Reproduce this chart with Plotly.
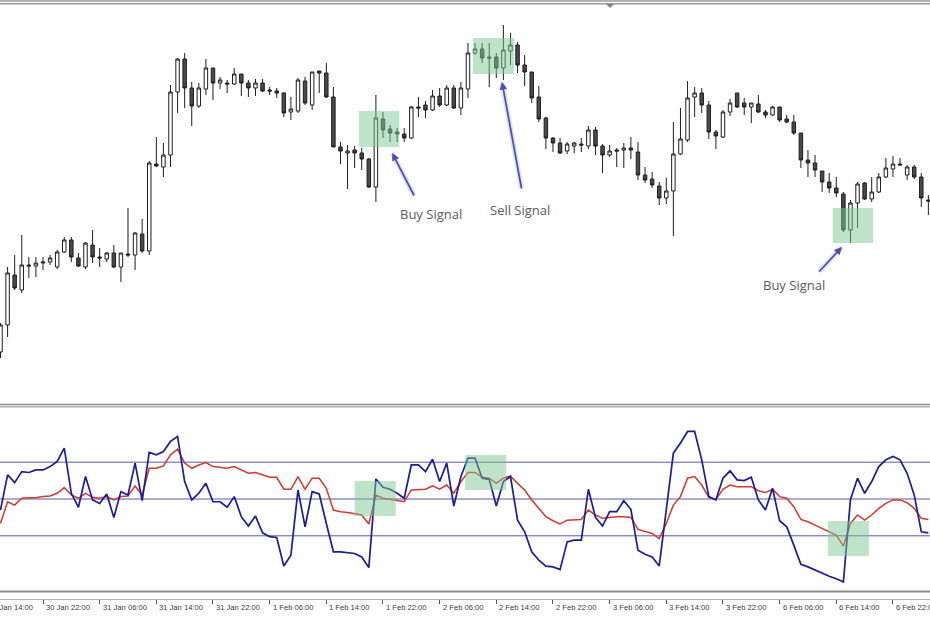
import plotly.graph_objects as go

# ---------------- data ----------------
open_ = [1.0648, 1.0675, 1.0725, 1.0710, 1.0735, 1.0734, 1.0737, 1.0738, 1.0733, 1.0748,
         1.0760, 1.0742, 1.0733, 1.0755, 1.0743, 1.0741, 1.0747, 1.0733, 1.0746, 1.0745,
         1.0766, 1.0749, 1.0836, 1.0833, 1.0845, 1.0908, 1.0941, 1.0912, 1.0894, 1.0911,
         1.0932, 1.0917, 1.0917, 1.0916, 1.0926, 1.0917, 1.0912, 1.0917, 1.0910, 1.0909,
         1.0907, 1.0888, 1.0889, 1.0919, 1.0895, 1.0929, 1.0927, 1.0903, 1.0853, 1.0847,
         1.0850, 1.0847, 1.0841, 1.0813, 1.0881, 1.0871, 1.0868, 1.0866, 1.0862, 1.0893,
         1.0895, 1.0890, 1.0904, 1.0895, 1.0912, 1.0892, 1.0911, 1.0947, 1.0951, 1.0943,
         1.0943, 1.0932, 1.0949, 1.0955, 1.0935, 1.0928, 1.0903, 1.0882, 1.0862, 1.0857,
         1.0849, 1.0854, 1.0856, 1.0854, 1.0870, 1.0854, 1.0845, 1.0850, 1.0850, 1.0852,
         1.0848, 1.0825, 1.0821, 1.0814, 1.0802, 1.0809, 1.0846, 1.0860, 1.0903, 1.0907,
         1.0895, 1.0868, 1.0863, 1.0888, 1.0907, 1.0897, 1.0893, 1.0896, 1.0888, 1.0885,
         1.0893, 1.0881, 1.0878, 1.0867, 1.0840, 1.0837, 1.0829, 1.0818, 1.0812, 1.0806,
         1.0770, 1.0797, 1.0817, 1.0801, 1.0808, 1.0823, 1.0831, 1.0836, 1.0825, 1.0833,
         1.0823, 1.0800]
high = [1.0677, 1.0733, 1.0745, 1.0765, 1.0743, 1.0743, 1.0743, 1.0745, 1.0750, 1.0763,
        1.0763, 1.0747, 1.0758, 1.0770, 1.0752, 1.0748, 1.0755, 1.0747, 1.0792, 1.0768,
        1.0781, 1.0839, 1.0863, 1.0857, 1.0915, 1.0942, 1.0947, 1.0918, 1.0917, 1.0941,
        1.0932, 1.0923, 1.0920, 1.0932, 1.0926, 1.0920, 1.0921, 1.0921, 1.0913, 1.0912,
        1.0908, 1.0903, 1.0922, 1.0923, 1.0928, 1.0929, 1.0937, 1.0913, 1.0858, 1.0855,
        1.0854, 1.0852, 1.0842, 1.0905, 1.0888, 1.0875, 1.0872, 1.0872, 1.0894, 1.0903,
        1.0899, 1.0910, 1.0912, 1.0915, 1.0915, 1.0918, 1.0957, 1.0957, 1.0957, 1.0957,
        1.0947, 1.0975, 1.0967, 1.0958, 1.0945, 1.0928, 1.0914, 1.0883, 1.0863, 1.0862,
        1.0858, 1.0858, 1.0862, 1.0874, 1.0873, 1.0856, 1.0855, 1.0852, 1.0857, 1.0863,
        1.0858, 1.0833, 1.0828, 1.0818, 1.0822, 1.0878, 1.0892, 1.0919, 1.0913, 1.0912,
        1.0899, 1.0870, 1.0890, 1.0901, 1.0907, 1.0902, 1.0897, 1.0905, 1.0890, 1.0894,
        1.0893, 1.0885, 1.0885, 1.0867, 1.0850, 1.0845, 1.0829, 1.0827, 1.0823, 1.0808,
        1.0800, 1.0818, 1.0818, 1.0823, 1.0827, 1.0842, 1.0844, 1.0842, 1.0835, 1.0835,
        1.0827, 1.0805]
low = [1.0642, 1.0663, 1.0710, 1.0707, 1.0722, 1.0723, 1.0730, 1.0735, 1.0731, 1.0747,
       1.0738, 1.0733, 1.0731, 1.0737, 1.0733, 1.0738, 1.0732, 1.0718, 1.0743, 1.0730,
       1.0747, 1.0745, 1.0833, 1.0823, 1.0833, 1.0887, 1.0892, 1.0874, 1.0892, 1.0905,
       1.0900, 1.0911, 1.0907, 1.0915, 1.0904, 1.0903, 1.0904, 1.0908, 1.0905, 1.0902,
       1.0883, 1.0880, 1.0887, 1.0895, 1.0890, 1.0907, 1.0902, 1.0853, 1.0836, 1.0811,
       1.0832, 1.0830, 1.0812, 1.0798, 1.0862, 1.0858, 1.0858, 1.0858, 1.0861, 1.0883,
       1.0882, 1.0889, 1.0893, 1.0894, 1.0891, 1.0885, 1.0902, 1.0945, 1.0937, 1.0913,
       1.0922, 1.0920, 1.0935, 1.0927, 1.0914, 1.0897, 1.0878, 1.0851, 1.0848, 1.0846,
       1.0846, 1.0847, 1.0848, 1.0851, 1.0845, 1.0827, 1.0843, 1.0833, 1.0832, 1.0841,
       1.0820, 1.0817, 1.0812, 1.0795, 1.0796, 1.0764, 1.0845, 1.0858, 1.0883, 1.0887,
       1.0861, 1.0851, 1.0862, 1.0884, 1.0892, 1.0885, 1.0877, 1.0887, 1.0882, 1.0884,
       1.0878, 1.0877, 1.0865, 1.0832, 1.0823, 1.0823, 1.0808, 1.0807, 1.0803, 1.0768,
       1.0757, 1.0772, 1.0800, 1.0798, 1.0807, 1.0822, 1.0823, 1.0835, 1.0820, 1.0821,
       1.0793, 1.0785]
close = [1.0675, 1.0727, 1.0712, 1.0735, 1.0734, 1.0737, 1.0738, 1.0742, 1.0748, 1.0760,
         1.0743, 1.0734, 1.0757, 1.0743, 1.0742, 1.0747, 1.0733, 1.0747, 1.0745, 1.0767,
         1.0749, 1.0837, 1.0834, 1.0845, 1.0908, 1.0941, 1.0912, 1.0894, 1.0912, 1.0932,
         1.0917, 1.0920, 1.0916, 1.0926, 1.0917, 1.0912, 1.0917, 1.0909, 1.0909, 1.0907,
         1.0887, 1.0891, 1.0920, 1.0897, 1.0928, 1.0927, 1.0903, 1.0853, 1.0849, 1.0849,
         1.0847, 1.0841, 1.0813, 1.0882, 1.0870, 1.0867, 1.0866, 1.0862, 1.0893, 1.0892,
         1.0890, 1.0904, 1.0895, 1.0912, 1.0892, 1.0912, 1.0947, 1.0951, 1.0942, 1.0942,
         1.0932, 1.0950, 1.0955, 1.0935, 1.0928, 1.0902, 1.0881, 1.0862, 1.0857, 1.0847,
         1.0856, 1.0857, 1.0855, 1.0870, 1.0854, 1.0845, 1.0849, 1.0849, 1.0852, 1.0850,
         1.0825, 1.0820, 1.0815, 1.0802, 1.0809, 1.0846, 1.0861, 1.0902, 1.0907, 1.0895,
         1.0868, 1.0864, 1.0888, 1.0897, 1.0893, 1.0893, 1.0897, 1.0888, 1.0885, 1.0893,
         1.0880, 1.0878, 1.0867, 1.0840, 1.0837, 1.0830, 1.0818, 1.0812, 1.0807, 1.0770,
         1.0797, 1.0816, 1.0801, 1.0808, 1.0823, 1.0832, 1.0836, 1.0835, 1.0833, 1.0823,
         1.0802, 1.0799]

osc_fast = [44.0, 63.1, 58.9, 64.9, 64.4, 65.8, 65.8, 67.6, 70.4, 77.6,
            53.1, 45.5, 62.2, 49.5, 47.6, 52.7, 40.0, 54.0, 52.2, 69.5,
            49.1, 75.3, 74.0, 75.8, 81.3, 84.0, 59.5, 49.5, 53.1, 58.5,
            48.5, 48.5, 45.5, 51.3, 40.4, 35.3, 40.7, 31.6, 29.5, 29.1,
            13.6, 19.5, 54.9, 34.9, 54.0, 52.7, 36.7, 21.3, 21.3, 20.7,
            20.4, 18.5, 12.7, 60.9, 56.4, 55.3, 53.1, 50.4, 68.5, 68.5,
            64.9, 71.6, 59.5, 69.5, 46.2, 62.2, 72.2, 72.2, 61.3, 60.7,
            46.2, 59.5, 62.2, 38.5, 32.2, 21.3, 16.7, 13.5, 13.1, 11.6,
            26.7, 27.6, 27.6, 55.3, 40.0, 35.3, 43.1, 43.1, 49.1, 44.4,
            22.2, 20.0, 18.5, 13.6, 44.0, 74.9, 80.4, 86.7, 86.7, 71.3,
            51.3, 49.5, 61.3, 65.3, 60.4, 60.0, 61.8, 49.5, 44.0, 55.8,
            38.2, 34.9, 24.9, 14.5, 13.1, 11.3, 9.5, 8.0, 6.7, 4.9,
            49.8, 61.3, 53.1, 59.5, 67.6, 71.3, 73.1, 71.3, 64.0, 52.2,
            32.2, 31.6]
osc_slow = [36.7, 48.5, 46.7, 50.4, 50.7, 50.7, 51.3, 51.6, 53.1, 56.2,
            52.2, 50.4, 53.1, 50.9, 50.4, 51.3, 49.5, 51.3, 51.6, 57.1,
            52.2, 66.7, 66.7, 68.0, 74.0, 77.1, 69.5, 66.7, 68.5, 69.8,
            67.6, 67.1, 66.7, 67.6, 65.8, 64.0, 64.4, 63.1, 61.8, 61.8,
            55.3, 55.3, 62.2, 55.3, 61.3, 61.3, 55.8, 44.0, 43.1, 42.7,
            42.2, 41.3, 36.4, 52.2, 50.4, 49.8, 48.9, 48.5, 54.9, 54.9,
            55.3, 57.1, 55.3, 57.6, 53.1, 59.5, 64.4, 64.4, 61.8, 61.3,
            58.5, 61.3, 62.5, 58.5, 54.9, 49.5, 44.9, 40.4, 38.2, 36.4,
            38.5, 38.9, 38.9, 44.0, 41.3, 39.5, 40.0, 40.4, 40.4, 40.0,
            33.5, 32.2, 31.3, 28.5, 36.7, 46.7, 51.3, 61.3, 62.2, 57.6,
            50.9, 49.8, 55.3, 57.6, 56.7, 56.7, 56.7, 54.5, 53.5, 55.3,
            51.3, 50.4, 45.8, 38.9, 37.6, 35.8, 34.0, 32.2, 30.4, 24.4,
            36.7, 41.3, 38.5, 41.3, 44.9, 47.6, 49.5, 49.5, 48.0, 44.9,
            39.5, 38.9]

tick_idx = [-2, 6, 14, 22, 30, 38, 46, 54, 62, 70, 78, 86, 94, 102, 110, 118, 126]
tick_text = ["30 Jan 14:00", "30 Jan 22:00", "31 Jan 06:00", "31 Jan 14:00", "31 Jan 22:00",
             "1 Feb 06:00", "1 Feb 14:00", "1 Feb 22:00", "2 Feb 06:00", "2 Feb 14:00",
             "2 Feb 22:00", "3 Feb 06:00", "3 Feb 14:00", "3 Feb 22:00", "6 Feb 06:00",
             "6 Feb 14:00", "6 Feb 22:00"]
levels = [70, 50, 30]

# signal boxes: bar range, price range, oscillator range
sig_labels = ["Buy Signal", "Sell Signal", "Buy Signal"]
sig_bars = [(50.6, 56.3), (66.7, 72.5), (117.5, 123.2)]
sig_price = [(1.0853, 1.0889), (1.0926, 1.0962), (1.0757, 1.0792)]
sig_osc_bars = [(50.0, 55.8), (65.6, 71.4), (116.8, 122.6)]
sig_osc = [(40.8, 59.8), (54.9, 73.9), (19.0, 38.0)]
sig_text_pos = [(60.8, 1.0786), (73.3, 1.0790), (112.0, 1.0715)]
sig_arrow_tip = [(55.3, 1.0847), (70.8, 1.0918), (118.8, 1.0753)]
sig_arrow_tail = [(58.5, 1.0803), (73.6, 1.0810), (115.4, 1.0727)]

# ---------------- figure ----------------
W, H = 930, 620
x = list(range(len(open_)))
X0, X1 = -0.0706, 131.23


def py(px):
    return 1 - px / H


fig = go.Figure()
fig.add_trace(go.Candlestick(
    x=x, open=open_, high=high, low=low, close=close,
    xaxis="x", yaxis="y",
    increasing=dict(line=dict(color="#1e1e1e", width=1), fillcolor="#ffffff"),
    decreasing=dict(line=dict(color="#1e1e1e", width=1), fillcolor="#4a4a4a"),
    whiskerwidth=0, showlegend=False, hoverinfo="skip",
))
fig.add_trace(go.Scatter(x=x, y=osc_slow, mode="lines", xaxis="x2", yaxis="y2",
                         line=dict(color="#d2382e", width=1.5), showlegend=False,
                         hoverinfo="skip"))
fig.add_trace(go.Scatter(x=x, y=osc_fast, mode="lines", xaxis="x2", yaxis="y2",
                         line=dict(color="#1c1c96", width=1.7), showlegend=False,
                         hoverinfo="skip"))

shapes = []
for lv in levels:
    shapes.append(dict(type="line", xref="paper", x0=0, x1=1, yref="y2", y0=lv, y1=lv,
                       line=dict(color="#5a5aa6", width=1), layer="below"))
for (b0, b1), (p0, p1) in zip(sig_bars, sig_price):
    shapes.append(dict(type="rect", xref="x", yref="y", x0=b0, x1=b1, y0=p0, y1=p1,
                       fillcolor="rgba(125,200,145,0.5)", line=dict(width=0), layer="above"))
for (b0, b1), (v0, v1) in zip(sig_osc_bars, sig_osc):
    shapes.append(dict(type="rect", xref="x2", yref="y2", x0=b0, x1=b1, y0=v0, y1=v1,
                       fillcolor="rgba(125,200,145,0.5)", line=dict(width=0), layer="above"))
# frame lines (window decorations)
for ypx, col, wd in [(1, "#9a9a9a", 1.5), (3.8, "#9a9a9a", 1.5),
                     (404.5, "#8c8c8c", 1.5), (406.8, "#b0b0b0", 1.5),
                     (591.5, "#8c8c8c", 2)]:
    shapes.append(dict(type="line", xref="paper", yref="paper", x0=0, x1=1,
                       y0=py(ypx), y1=py(ypx), line=dict(color=col, width=wd)))
shapes.append(dict(type="path", xref="paper", yref="paper",
                   path=f"M {606/W},{py(4)} L {614/W},{py(4)} L {610/W},{py(8)} Z",
                   fillcolor="#808080", line=dict(width=0)))
fig.update_layout(shapes=shapes)

ann = []
for (tx, ty), (hx, hy) in zip(sig_arrow_tail, sig_arrow_tip):
    ann.append(dict(x=hx, y=hy, ax=tx, ay=ty, xref="x", yref="y", axref="x", ayref="y",
                    text="", showarrow=True, arrowhead=0, arrowwidth=5,
                    arrowcolor="rgba(120,120,235,0.22)"))
    ann.append(dict(x=hx, y=hy, ax=tx, ay=ty, xref="x", yref="y", axref="x", ayref="y",
                    text="", showarrow=True, arrowhead=2, arrowsize=0.9, arrowwidth=1.7,
                    arrowcolor="#4e4eaa"))
for lab, (tx, ty) in zip(sig_labels, sig_text_pos):
    ann.append(dict(x=tx, y=ty, xref="x", yref="y", text=lab, showarrow=False,
                    font=dict(family="Open Sans", size=13, color="#5a5a5a")))
for i, t in zip(tick_idx, tick_text):
    if X0 <= i <= X1:
        ann.append(dict(x=i, xref="x2", y=py(607.5), yref="paper", text=t, showarrow=False,
                        xanchor="left", yanchor="middle", xshift=1,
                        font=dict(family="Liberation Sans", size=7.6, color="#3a3a3a")))
    else:
        ann.append(dict(x=(i - X0) / (X1 - X0), xref="paper", y=py(607.5), yref="paper",
                        text=t, showarrow=False, xanchor="left", yanchor="middle", xshift=1,
                        font=dict(family="Liberation Sans", size=7.6, color="#3a3a3a")))
fig.update_layout(annotations=ann)

vis_ticks = [i for i in tick_idx if X0 <= i <= X1]
fig.update_layout(
    width=W, height=H, margin=dict(l=0, r=0, t=0, b=0),
    paper_bgcolor="white", plot_bgcolor="white",
    xaxis=dict(domain=[0, 1], range=[X0, X1], anchor="y", showticklabels=False,
               showgrid=False, zeroline=False, rangeslider=dict(visible=False), ticks=""),
    yaxis=dict(domain=[py(403), py(6)], range=[1.0597, 1.0994], showticklabels=False,
               showgrid=False, zeroline=False, ticks=""),
    xaxis2=dict(domain=[0, 1], range=[X0, X1], anchor="y2", showgrid=False, zeroline=False,
                tickmode="array", tickvals=vis_ticks, showticklabels=False,
                ticks="outside", ticklen=4, tickcolor="#555555", tickwidth=1,
                showline=True, linecolor="#b4b4b4", linewidth=1),
    yaxis2=dict(domain=[py(599), py(407)], range=[-4.35, 100], showticklabels=False,
                showgrid=False, zeroline=False, ticks=""),
)

fig.write_html("out.html", config={"displayModeBar": False},
               post_script="document.body.style.margin='0';document.body.style.overflow='hidden';")
